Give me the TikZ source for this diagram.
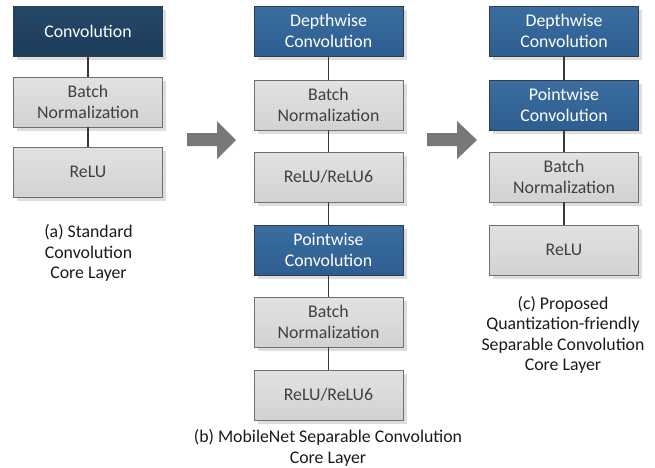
\documentclass[tikz,border=0pt]{standalone}
\usepackage{fontspec}
\setmainfont{Carlito}
\usetikzlibrary{shadows}
\definecolor{darkconv}{HTML}{244768}
\definecolor{darkconvb}{HTML}{1E3C5A}
\definecolor{blueconv}{HTML}{3B6DA0}
\definecolor{blueconvb}{HTML}{2E5E8F}
\definecolor{blueedge}{HTML}{2A3D52}
\definecolor{greytop}{HTML}{E2E2E2}
\definecolor{greybot}{HTML}{D2D2D2}
\definecolor{greyedge}{HTML}{707070}
\definecolor{greytext}{HTML}{404040}
\definecolor{linkcol}{HTML}{383838}
\definecolor{arrowcol}{HTML}{787878}
\definecolor{captext}{HTML}{1A1A1A}
\tikzset{
  layer/.style={rectangle, minimum width=149pt, minimum height=50pt,
    align=center, inner sep=0pt, line width=0.9pt,
    font=\fontsize{17.8}{20.8}\selectfont,
    drop shadow={shadow xshift=3.5pt, shadow yshift=-3.5pt, fill=black!13, opacity=1}},
  graybox/.style={layer, draw=greyedge, top color=greytop, bottom color=greybot, text=greytext},
  bluebox/.style={layer, draw=blueedge, top color=blueconv, bottom color=blueconvb, text=white},
  darkbox/.style={layer, draw=blueedge, top color=darkconv, bottom color=darkconvb, text=white},
  link/.style={draw=linkcol, line width=1.8pt},
  caption/.style={align=center, text=captext, font=\fontsize{17.8}{20.3}\selectfont},
  blockarrow/.style={fill=arrowcol, draw=none}
}
\begin{document}
\begin{tikzpicture}[x=1pt, y=-1pt]
\useasboundingbox (0,0) rectangle (655,467);

% (a) standard convolution
\node[darkbox] (a1) at (88,31)  {Convolution};
\node[graybox] (a2) at (88,102) {Batch\\Normalization};
\node[graybox] (a3) at (88,172) {ReLU};
\draw[link] (a1) -- (a2);
\draw[link] (a2) -- (a3);
\node[caption] (acap) at (88.5,253) {(a) Standard\\Convolution\\Core Layer};

% (b) MobileNet separable convolution
\node[bluebox] (b1) at (328.5,31)  {Depthwise\\Convolution};
\node[graybox] (b2) at (328.5,105) {Batch\\Normalization};
\node[graybox] (b3) at (328.5,177) {ReLU/ReLU6};
\node[bluebox] (b4) at (328.5,250) {Pointwise\\Convolution};
\node[graybox] (b5) at (328.5,322) {Batch\\Normalization};
\node[graybox] (b6) at (328.5,395) {ReLU/ReLU6};
\draw[link] (b1) -- (b2);
\draw[link] (b2) -- (b3);
\draw[link] (b3) -- (b4);
\draw[link] (b4) -- (b5);
\draw[link] (b5) -- (b6);
\node[caption] (bcap) at (328,448) {(b) MobileNet Separable Convolution\\Core Layer};

% (c) proposed quantization-friendly separable convolution
\node[bluebox] (c1) at (564,31)  {Depthwise\\Convolution};
\node[bluebox] (c2) at (564,105) {Pointwise\\Convolution};
\node[graybox] (c3) at (564,177) {Batch\\Normalization};
\node[graybox] (c4) at (564,250) {ReLU};
\draw[link] (c1) -- (c2);
\draw[link] (c2) -- (c3);
\draw[link] (c3) -- (c4);
\node[caption] (ccap) at (563,335) {(c) Proposed\\Quantization-friendly\\Separable Convolution\\Core Layer};

% block arrows between the columns
\fill[blockarrow] (187,133) -- (217,133) -- (217,121) -- (236,140) -- (217,159) -- (217,146) -- (187,146) -- cycle;
\fill[blockarrow] (427,133) -- (457,133) -- (457,121) -- (477,140) -- (457,159) -- (457,146) -- (427,146) -- cycle;
\end{tikzpicture}
\end{document}
